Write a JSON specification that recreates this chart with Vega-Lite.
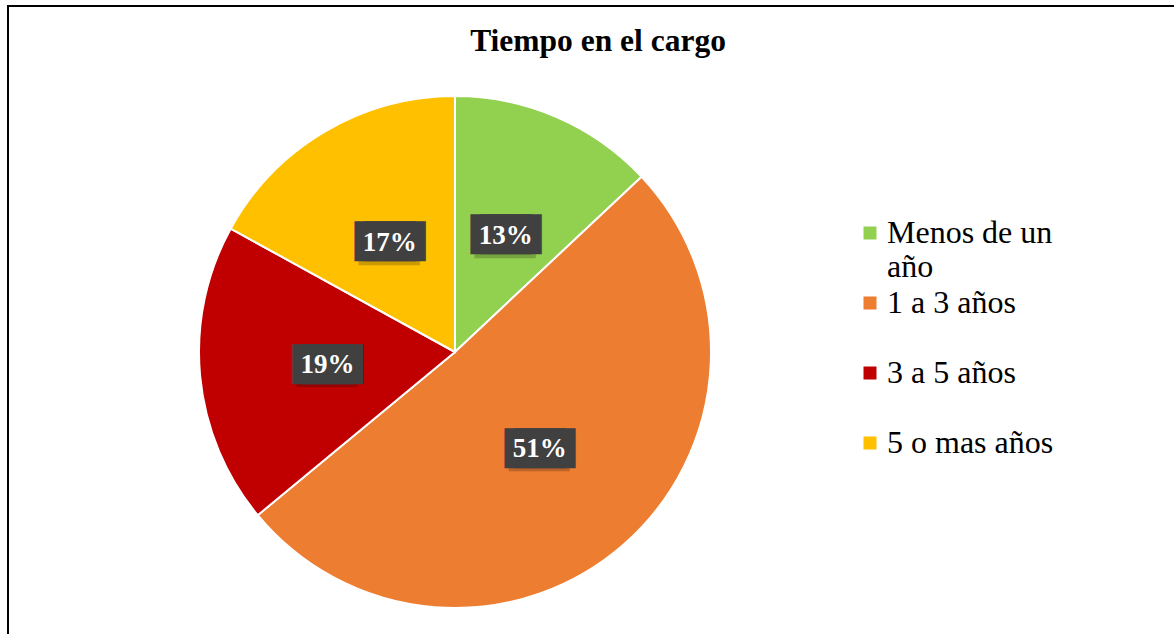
{
  "$schema": "https://vega.github.io/schema/vega-lite/v6.json",
  "width": 1176,
  "height": 640,
  "autosize": {"type": "none"},
  "padding": {"left": 8, "top": 6, "right": -10, "bottom": -12},
  "background": "white",
  "view": {"stroke": "black", "strokeWidth": 2, "fill": "white"},
  "config": {"view": {"stroke": "black", "strokeWidth": 2}, "font": "Liberation Serif"},
  "title": {"text": "Tiempo en el cargo", "font": "Liberation Serif", "fontSize": 31.5, "fontWeight": "bold", "color": "black", "anchor": "middle", "frame": "group", "offset": 0, "baseline": "alphabetic", "dy": 76, "dx": 2},
  "data": {"values": [
    {"categoria": "Menos de un año", "pct": 0.13, "orden": 1},
    {"categoria": "1 a 3 años", "pct": 0.51, "orden": 2},
    {"categoria": "3 a 5 años", "pct": 0.19, "orden": 3},
    {"categoria": "5 o mas años", "pct": 0.17, "orden": 4}
  ]},
  "encoding": {
    "theta": {"field": "pct", "type": "quantitative", "stack": true},
    "order": {"field": "orden", "type": "ordinal"}
  },
  "layer": [
    {
      "mark": {"type": "arc", "x": 447, "y": 346, "outerRadius": 256, "stroke": "white", "strokeWidth": 2},
      "encoding": {
        "color": {
          "field": "categoria", "type": "nominal",
          "scale": {"domain": ["Menos de un año", "1 a 3 años", "3 a 5 años", "5 o mas años"], "range": ["#92D050", "#ED7D31", "#C00000", "#FFC000"]},
          "legend": {
            "title": null, "orient": "none", "legendX": 846, "legendY": 211,
            "symbolType": "square", "symbolSize": 169, "symbolStrokeWidth": 0,
            "labelFont": "Liberation Serif", "labelFontSize": 32, "labelColor": "black",
            "labelOffset": 1, "labelLimit": 300, "labelBaseline": "middle",
            "gridAlign": "all", "rowPadding": 4, "padding": 0,
            "labelExpr": "datum.label == 'Menos de un año' ? ['Menos de un', 'año'] : datum.label"
          }
        }
      }
    },
    {
      "mark": {"type": "text", "x": 447, "y": 346, "radius": 128, "font": "DejaVu Sans Mono", "fontSize": 33.5, "baseline": "middle", "align": "center", "dx": -1, "dy": 5, "color": "black", "opacity": 0.2},
      "encoding": {"text": {"value": "███"}}
    },
    {
      "mark": {"type": "text", "x": 447, "y": 346, "radius": 128, "font": "DejaVu Sans Mono", "fontSize": 33.5, "baseline": "middle", "align": "center", "dx": -5, "dy": 1.5, "color": "#404040"},
      "encoding": {"text": {"value": "███"}}
    },
    {
      "mark": {"type": "text", "x": 447, "y": 346, "radius": 128, "font": "DejaVu Sans Mono", "fontSize": 33.5, "baseline": "middle", "align": "center", "dx": 5, "dy": 1.5, "color": "#404040"},
      "encoding": {"text": {"value": "███"}}
    },
    {
      "mark": {"type": "text", "x": 447, "y": 346, "radius": 128, "font": "Liberation Serif", "fontSize": 27, "fontWeight": "bold", "baseline": "middle", "align": "center", "dy": 1, "color": "white"},
      "encoding": {"text": {"field": "pct", "type": "quantitative", "format": ".0%"}}
    }
  ]
}
